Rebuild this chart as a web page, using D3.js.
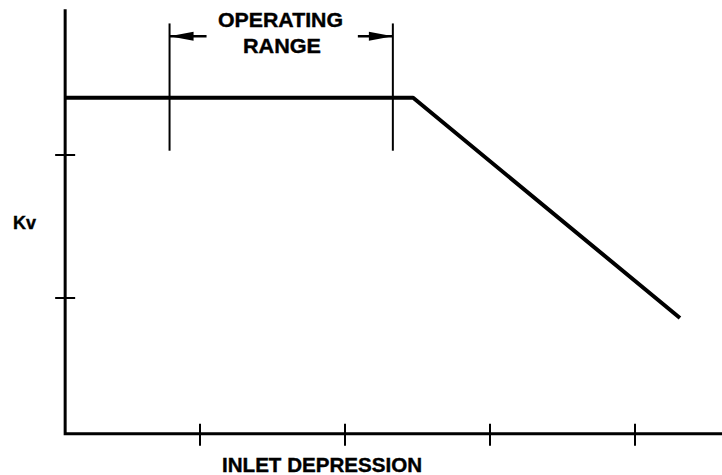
<!DOCTYPE html>
<html lang="en">
  <head>
    <meta charset="UTF-8" />
    <title>Kv vs Inlet Depression</title>
    <script src="https://d3js.org/d3.v7.min.js"></script>
    <style>
      body {
        margin: 0;
        padding: 0;
        background-color: #ffffff;
      }
      svg text {
        font-family: "Liberation Sans", Arial, sans-serif;
        font-weight: bold;
        fill: #000;
        stroke: #000;
        stroke-width: 0.4px;
      }
    </style>
  </head>
  <body>
    <div id="chart"></div>
    <script>
      const width = 722;
      const height = 475;

      // axis extents and tick positions (in chart units)
      const xExtent = [0.07, 4.6];
      const yExtent = [0.05, 3.02];
      const xTicks = [1, 2, 3, 4];
      const yTicks = [1, 2];

      // Kv curve: flat then falling off
      const curveX = [0.07, 2.47, 4.31];
      const curveY = [2.4, 2.4, 0.86];

      // operating range bounds
      const rangeBounds = [0.79, 2.33];
      const rangeTop = 2.92;
      const rangeBottom = 2.03;
      const arrowY = 2.83;

      const x = d3.scaleLinear().domain([1, 4]).range([200, 635]);
      const y = d3.scaleLinear().domain([1, 2]).range([298, 155]);

      const svg = d3
        .select("#chart")
        .append("svg")
        .attr("width", width)
        .attr("height", height);

      // axes
      svg
        .append("path")
        .attr(
          "d",
          d3.line()([
            [x(xExtent[0]), y(yExtent[1])],
            [x(xExtent[0]), y(yExtent[0])],
            [x(xExtent[1]), y(yExtent[0])],
          ])
        )
        .attr("fill", "none")
        .attr("stroke", "#000")
        .attr("stroke-width", 3);

      svg
        .selectAll(".xtick")
        .data(xTicks)
        .enter()
        .append("line")
        .attr("x1", (d) => x(d))
        .attr("x2", (d) => x(d))
        .attr("y1", y(yExtent[0]) - 10)
        .attr("y2", y(yExtent[0]) + 12)
        .attr("stroke", "#000")
        .attr("stroke-width", 2);

      svg
        .selectAll(".ytick")
        .data(yTicks)
        .enter()
        .append("line")
        .attr("x1", x(xExtent[0]) - 10)
        .attr("x2", x(xExtent[0]) + 10)
        .attr("y1", (d) => y(d))
        .attr("y2", (d) => y(d))
        .attr("stroke", "#000")
        .attr("stroke-width", 2);

      // curve
      svg
        .append("path")
        .attr("d", d3.line()(curveX.map((d, i) => [x(d), y(curveY[i])])))
        .attr("fill", "none")
        .attr("stroke", "#000")
        .attr("stroke-width", 4)
        .attr("stroke-linejoin", "round");

      // operating range markers
      svg
        .selectAll(".range")
        .data(rangeBounds)
        .enter()
        .append("line")
        .attr("x1", (d) => x(d))
        .attr("x2", (d) => x(d))
        .attr("y1", y(rangeTop))
        .attr("y2", y(rangeBottom))
        .attr("stroke", "#000")
        .attr("stroke-width", 2);

      // arrows pointing outward to the bounds
      const ay = y(arrowY);
      const arrows = [
        { tip: x(rangeBounds[0]), tail: x(rangeBounds[0]) + 37, dir: 1 },
        { tip: x(rangeBounds[1]), tail: x(rangeBounds[1]) - 35, dir: -1 },
      ];
      arrows.forEach((a) => {
        svg
          .append("line")
          .attr("x1", a.tip)
          .attr("x2", a.tail)
          .attr("y1", ay)
          .attr("y2", ay)
          .attr("stroke", "#000")
          .attr("stroke-width", 2.5);
        svg
          .append("path")
          .attr(
            "d",
            d3.line()([
              [a.tip, ay],
              [a.tip + a.dir * 24, ay - 4.5],
              [a.tip + a.dir * 24, ay + 4.5],
            ]) + "Z"
          )
          .attr("fill", "#000");
      });

      // labels
      svg
        .append("text")
        .attr("x", 218)
        .attr("y", 27)
        .attr("font-size", 21)
        .attr("textLength", 125)
        .attr("lengthAdjust", "spacingAndGlyphs")
        .text("OPERATING");

      svg
        .append("text")
        .attr("x", 243)
        .attr("y", 53)
        .attr("font-size", 21)
        .attr("textLength", 78)
        .attr("lengthAdjust", "spacingAndGlyphs")
        .text("RANGE");

      svg
        .append("text")
        .attr("x", 13)
        .attr("y", 229)
        .attr("font-size", 18)
        .attr("textLength", 23)
        .attr("lengthAdjust", "spacingAndGlyphs")
        .text("Kv");

      svg
        .append("text")
        .attr("x", 222)
        .attr("y", 472)
        .attr("font-size", 20.5)
        .attr("textLength", 200)
        .attr("lengthAdjust", "spacingAndGlyphs")
        .text("INLET DEPRESSION");
    </script>
  </body>
</html>
